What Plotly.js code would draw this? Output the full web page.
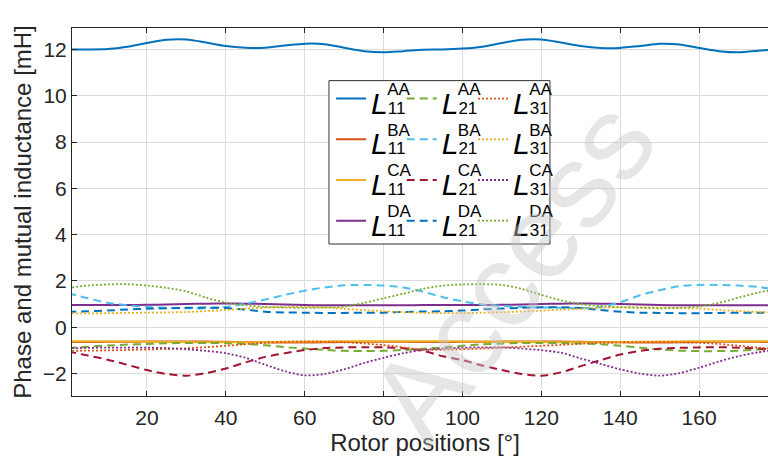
<!DOCTYPE html>
<html>
<head>
<meta charset="utf-8">
<script src="https://cdn.plot.ly/plotly-3.0.1.min.js"></script>
<style>
html, body { margin: 0; padding: 0; overflow: hidden; background: #fff; }
#chart { width: 788px; height: 468px; }
</style>
</head>
<body>
<div id="chart"></div>
<script>
// Rotor position samples (degrees)
const rotorDeg = [0, 5, 10, 15, 20, 25, 30, 35, 40, 45, 50, 55, 60, 65, 70, 75, 80, 85, 90,
  95, 100, 105, 110, 115, 120, 125, 130, 135, 140, 145, 150, 155, 160, 165, 170, 175, 180];

// Self inductances (mH)
const L11_AA = [12.00, 12.00, 12.02, 12.12, 12.28, 12.42, 12.43, 12.30, 12.15, 12.08, 12.08, 12.17, 12.25, 12.23, 12.08, 11.93, 11.88, 11.93, 11.99,
  12.00, 12.04, 12.12, 12.28, 12.42, 12.43, 12.30, 12.15, 12.07, 12.07, 12.15, 12.25, 12.22, 12.07, 11.93, 11.88, 11.95, 12.00];
const L11_BA = [-0.64, -0.64, -0.63, -0.63, -0.62, -0.62, -0.62, -0.62, -0.63, -0.64, -0.65, -0.66, -0.66, -0.65, -0.64, -0.63, -0.63, -0.63, -0.64,
  -0.64, -0.63, -0.63, -0.62, -0.62, -0.62, -0.62, -0.63, -0.64, -0.65, -0.66, -0.66, -0.65, -0.64, -0.63, -0.63, -0.63, -0.64];
const L11_CA = [-0.60, -0.60, -0.61, -0.61, -0.62, -0.63, -0.64, -0.65, -0.65, -0.65, -0.64, -0.63, -0.62, -0.61, -0.60, -0.60, -0.60, -0.60, -0.60,
  -0.60, -0.61, -0.61, -0.62, -0.63, -0.64, -0.65, -0.65, -0.65, -0.64, -0.63, -0.62, -0.61, -0.60, -0.60, -0.60, -0.60, -0.60];
const L11_DA = [0.96, 0.96, 0.96, 0.96, 0.97, 0.98, 1.00, 1.02, 1.03, 1.02, 1.00, 0.98, 0.96, 0.95, 0.95, 0.95, 0.95, 0.95, 0.96,
  0.96, 0.96, 0.96, 0.97, 0.98, 1.00, 1.02, 1.03, 1.02, 1.00, 0.98, 0.96, 0.95, 0.95, 0.95, 0.95, 0.95, 0.96];

// Mutual inductances, coil 21 (mH)
const L21_AA = [-0.90, -0.84, -0.79, -0.75, -0.72, -0.69, -0.68, -0.68, -0.69, -0.72, -0.78, -0.86, -0.92, -0.98, -1.02, -1.03, -1.02, -0.98, -0.93,
  -0.87, -0.80, -0.74, -0.70, -0.68, -0.68, -0.68, -0.70, -0.73, -0.80, -0.88, -0.96, -1.01, -1.03, -1.03, -1.01, -0.96, -0.92];
const L21_BA = [1.47, 1.25, 1.06, 0.95, 0.88, 0.84, 0.82, 0.82, 0.88, 1.02, 1.20, 1.40, 1.58, 1.72, 1.81, 1.83, 1.80, 1.72, 1.54,
  1.30, 1.12, 0.98, 0.92, 0.88, 0.86, 0.84, 0.82, 0.88, 1.08, 1.38, 1.60, 1.78, 1.83, 1.83, 1.80, 1.74, 1.62];
const L21_CA = [-1.05, -1.22, -1.40, -1.62, -1.85, -2.02, -2.09, -1.98, -1.78, -1.52, -1.28, -1.12, -0.98, -0.90, -0.87, -0.86, -0.87, -0.91, -1.02,
  -1.25, -1.42, -1.65, -1.85, -2.02, -2.09, -1.95, -1.68, -1.42, -1.18, -1.02, -0.93, -0.89, -0.87, -0.86, -0.88, -0.92, -0.98];
const L21_DA = [0.67, 0.69, 0.72, 0.77, 0.80, 0.82, 0.84, 0.85, 0.83, 0.76, 0.67, 0.64, 0.63, 0.62, 0.62, 0.63, 0.63, 0.66, 0.68,
  0.69, 0.72, 0.77, 0.81, 0.84, 0.86, 0.86, 0.83, 0.75, 0.67, 0.63, 0.62, 0.61, 0.61, 0.62, 0.63, 0.63, 0.64];

// Mutual inductances, coil 31 (mH)
const L31_AA = [-1.02, -1.01, -1.00, -0.98, -0.96, -0.94, -0.91, -0.86, -0.80, -0.73, -0.67, -0.63, -0.62, -0.63, -0.65, -0.70, -0.77, -0.87, -0.97,
  -0.97, -0.95, -0.92, -0.88, -0.84, -0.80, -0.76, -0.71, -0.67, -0.65, -0.64, -0.64, -0.65, -0.67, -0.72, -0.80, -0.88, -0.95];
const L31_BA = [0.60, 0.60, 0.61, 0.62, 0.63, 0.64, 0.66, 0.70, 0.75, 0.80, 0.85, 0.88, 0.88, 0.86, 0.80, 0.74, 0.69, 0.65, 0.62,
  0.61, 0.61, 0.63, 0.65, 0.68, 0.72, 0.76, 0.80, 0.84, 0.86, 0.86, 0.85, 0.83, 0.81, 0.75, 0.70, 0.66, 0.63];
const L31_CA = [-0.91, -0.89, -0.88, -0.88, -0.88, -0.90, -0.95, -1.02, -1.12, -1.32, -1.62, -1.90, -2.08, -2.02, -1.82, -1.55, -1.32, -1.12, -0.98,
  -0.92, -0.88, -0.87, -0.87, -0.92, -0.99, -1.10, -1.35, -1.58, -1.82, -2.00, -2.09, -1.98, -1.75, -1.48, -1.25, -1.08, -0.96];
const L31_DA = [1.70, 1.80, 1.85, 1.86, 1.80, 1.70, 1.55, 1.28, 1.06, 0.95, 0.88, 0.85, 0.84, 0.85, 0.89, 1.05, 1.25, 1.45, 1.66,
  1.80, 1.85, 1.86, 1.83, 1.66, 1.40, 1.16, 1.00, 0.92, 0.87, 0.84, 0.82, 0.84, 0.90, 1.05, 1.28, 1.50, 1.65];

// Labels
const coilSub = ['11', '21', '31'];
const phaseSup = ['AA', 'BA', 'CA', 'DA'];
const seriesData = [
  [L11_AA, L11_BA, L11_CA, L11_DA],
  [L21_AA, L21_BA, L21_CA, L21_DA],
  [L31_AA, L31_BA, L31_CA, L31_DA]
];
const yTickVals = [-2, 0, 2, 4, 6, 8, 10, 12];
const xTickVals = [20, 40, 60, 80, 100, 120, 140, 160];

// Styles
const colors = [
  ['#0072BD', '#D95319', '#EDB120', '#7E2F8E'],
  ['#77AC30', '#4DBEEE', '#A2142F', '#0072BD'],
  ['#D95319', '#EDB120', '#7E2F8E', '#77AC30']
];
const dashes = ['solid', '8px,5px', '2px,2px'];
const widths = [2, 2, 1.8];
const legendIds = ['legend', 'legend2', 'legend3'];

function legendName(sub, sup) {
  return '<span style="font-size:58px">\u00A0</span><span style="font-size:17px">' + sup + '</span>' +
         '<br><span style="font-size:30px"><i>L</i></span><span style="font-size:17px">' + sub + '</span>';
}

const traces = [];
for (let c = 0; c < 3; c++) {
  for (let p = 0; p < 4; p++) {
    traces.push({
      type: 'scatter',
      mode: 'lines',
      x: rotorDeg,
      y: seriesData[c][p],
      name: legendName(coilSub[c], phaseSup[p]),
      legend: legendIds[c],
      line: { color: colors[c][p], width: widths[c], dash: dashes[c], shape: 'spline', smoothing: 0.8 },
      hoverinfo: 'skip'
    });
  }
}

const FONT = "'Liberation Sans', Arial, Helvetica, sans-serif";
const legendCommon = {
  xanchor: 'left', yanchor: 'top',
  bgcolor: 'rgba(0,0,0,0)', borderwidth: 0,
  font: { family: FONT, size: 14.5, color: '#000' },
  orientation: 'v'
};

const layout = {
  width: 788, height: 468,
  margin: { l: 72, r: 10, t: 28, b: 72 },
  paper_bgcolor: '#fff', plot_bgcolor: '#fff',
  font: { family: FONT, color: '#262626' },
  showlegend: true,
  xaxis: {
    range: [1, 180],
    tickvals: xTickVals,
    ticks: 'inside', ticklen: 5, tickcolor: '#262626',
    showline: true, linecolor: '#262626', linewidth: 1, mirror: 'ticks',
    showgrid: true, gridcolor: '#dcdcdc', zeroline: false,
    tickfont: { size: 21, color: '#262626' },
    ticklabelstandoff: 3,
    title: { text: 'Rotor positions [°]', font: { size: 24, color: '#262626' }, standoff: 2 }
  },
  yaxis: {
    range: [-2.97, 12.93],
    tickvals: yTickVals,
    ticks: 'inside', ticklen: 5, tickcolor: '#262626',
    showline: true, linecolor: '#262626', linewidth: 1, mirror: 'ticks',
    showgrid: true, gridcolor: '#dcdcdc', zeroline: false,
    tickfont: { size: 21, color: '#262626' },
    title: { text: 'Phase and mutual inductance [mH]', font: { size: 24, color: '#262626' }, standoff: 4 }
  },
  legend: Object.assign({}, legendCommon, { x: 0.367, y: 0.877 }),
  legend2: Object.assign({}, legendCommon, { x: 0.467, y: 0.877 }),
  legend3: Object.assign({}, legendCommon, { x: 0.568, y: 0.877 }),
  shapes: [{
    type: 'rect', xref: 'paper', yref: 'paper',
    x0: 0.364, x1: 0.677, y0: 0.413, y1: 0.857,
    fillcolor: '#ffffff', line: { color: '#333333', width: 1 }, layer: 'above'
  }],
  annotations: [{
    xref: 'paper', yref: 'paper', x: 0.623, y: 0.342,
    text: 'Access', showarrow: false, textangle: -53,
    font: { family: FONT, size: 120, color: 'rgba(200,200,200,0.45)' }
  }]
};

Plotly.newPlot('chart', traces, layout, { staticPlot: true, displayModeBar: false });
</script>
</body>
</html>
